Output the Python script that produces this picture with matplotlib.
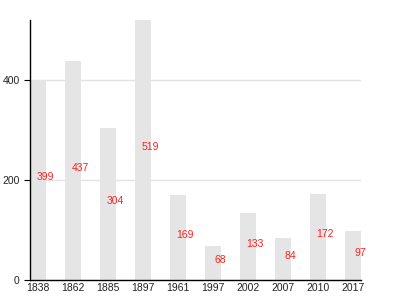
import matplotlib
matplotlib.use("Agg")
import matplotlib.pyplot as plt
from matplotlib.transforms import offset_copy

years = ["1838", "1862", "1885", "1897", "1961", "1997", "2002", "2007", "2010", "2017"]
values = [399, 437, 304, 519, 169, 68, 133, 84, 172, 97]
y_ticks = [0, 200, 400]

plt.rcParams['font.family'] = ['Liberation Sans', 'DejaVu Sans']

fig = plt.figure(figsize=(4, 3), dpi=100)
ax = fig.add_axes([0.075, 0.0667, 0.8275, 0.8667])

w = 0.46
x = list(range(len(years)))
ax.bar(x, values, width=w, color='#e5e5e5', zorder=2)

ax.set_xlim(-w / 2, len(years) - 1 + w / 2)
ax.set_ylim(0, max(values))
ax.set_yticks(y_ticks)
ax.set_xticks(x)
ax.set_xticklabels(years)
ax.yaxis.grid(True, color='#e2e2e2', linewidth=1, zorder=0)
ax.set_axisbelow(True)
ax.tick_params(axis='both', labelsize=7.5, labelcolor='#222222')
ax.tick_params(axis='y', length=4.3, width=0.8, color='black', pad=3.2)
ax.tick_params(axis='x', length=0, pad=2.2)
for s in ['top', 'right']:
    ax.spines[s].set_visible(False)
for s in ['left', 'bottom']:
    ax.spines[s].set_color('black')
    ax.spines[s].set_linewidth(1)

trans = offset_copy(ax.transData, fig=fig, x=7, y=0, units='dots')
for xi, v in zip(x, values):
    ax.text(xi, v / 2, str(v), color='#ff2020', fontsize=7.5, ha='center',
            va='baseline', transform=trans, zorder=3)

fig.savefig('out.png', dpi=100)
